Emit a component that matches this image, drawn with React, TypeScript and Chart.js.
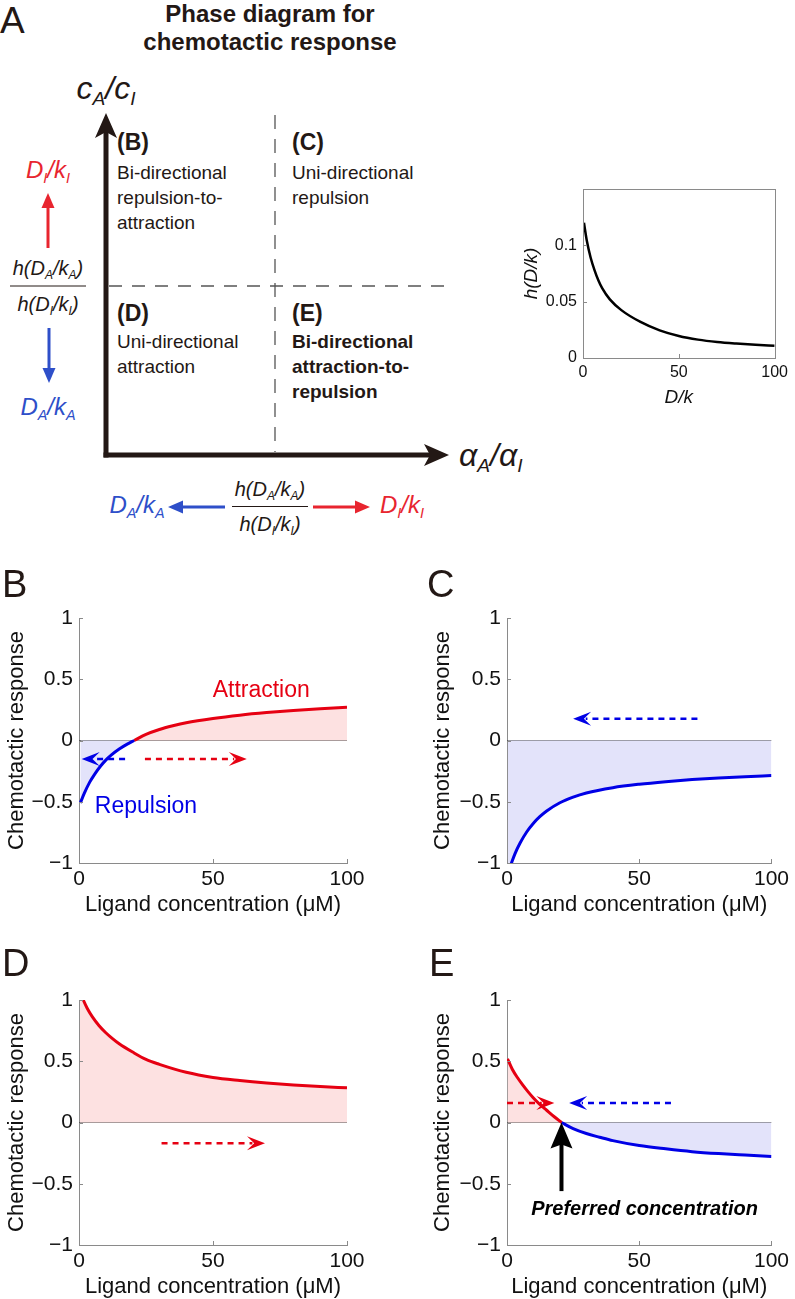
import React, { useEffect, useRef } from 'react';
import { Chart, registerables } from 'chart.js';

Chart.register(...registerables);

const FONT = "'Liberation Sans', Arial, Helvetica, sans-serif";
const INK = '#231815';
const RED = '#e60012';
const BLUE = '#0000e6';
const RED_FILL = '#fde1e1';
const BLUE_FILL = '#e3e3fa';
const AXIS = '#8a8a8a';
const ZERO = '#555555';
const A_RED = '#e8252f';
const A_BLUE = '#2e4fc9';

// ---------------- data ----------------
const concTicks = [0, 50, 100];
const respTicks = [-1, -0.5, 0, 0.5, 1];
const hTicks = [0, 0.05, 0.1];

const hConc = [0.5, 2, 4, 6, 8, 10, 14, 20, 30, 40, 50, 60, 70, 80, 90, 100];
const hVal = [0.12, 0.104, 0.089, 0.078, 0.069, 0.062, 0.052, 0.0425, 0.032, 0.0245, 0.0195, 0.0163, 0.0142, 0.0128, 0.0117, 0.0108];

const zeroConc = [0, 100];
const zeroResp = [0, 0];

const bRepConc = [0.5, 2, 4, 6, 8, 10, 12, 15, 18, 20.6];
const bRepResp = [-0.51, -0.43, -0.34, -0.27, -0.21, -0.16, -0.12, -0.07, -0.03, 0];
const bAttConc = [20.6, 25, 30, 35, 40, 50, 60, 70, 80, 90, 100];
const bAttResp = [0, 0.05, 0.09, 0.12, 0.145, 0.18, 0.207, 0.228, 0.245, 0.26, 0.272];

const cConc = [0.3, 1.7, 3, 5, 7.5, 10, 12.5, 15, 20, 25, 30, 40, 50, 60, 70, 80, 90, 100];
const cResp = [-1.085, -1.0, -0.925, -0.835, -0.745, -0.675, -0.62, -0.575, -0.508, -0.462, -0.428, -0.385, -0.357, -0.336, -0.319, -0.306, -0.295, -0.286];

const dConc = [0.3, 1.6, 3, 5, 7.5, 10, 12.5, 15, 20, 25, 30, 40, 50, 60, 70, 80, 90, 100];
const dResp = [1.07, 1.0, 0.935, 0.862, 0.79, 0.733, 0.685, 0.643, 0.575, 0.515, 0.475, 0.41, 0.368, 0.343, 0.323, 0.307, 0.294, 0.283];

const eAttConc = [0.2, 2, 4, 6, 8, 10, 12.3, 15, 18, 20.6];
const eAttResp = [0.52, 0.435, 0.365, 0.305, 0.25, 0.2, 0.15, 0.1, 0.045, 0];
const eRepConc = [20.6, 25, 30, 35, 40, 50, 60, 70, 80, 90, 100];
const eRepResp = [0, -0.05, -0.09, -0.12, -0.148, -0.188, -0.215, -0.238, -0.254, -0.266, -0.277];

// annotation anchors (data units)
const bArrows = [
  { from: 17.2, to: 1, at: -0.15, tone: 'blue' },
  { from: 24.6, to: 62.6, at: -0.15, tone: 'red' },
];
const cArrows = [{ from: 72, to: 25, at: 0.177, tone: 'blue' }];
const dArrows = [{ from: 30.8, to: 69.4, at: -0.17, tone: 'red' }];
const eArrows = [
  { from: 0, to: 17.9, at: 0.16, tone: 'red' },
  { from: 62, to: 23.5, at: 0.16, tone: 'blue' },
];
const eMarker = { conc: 20.6, from: -0.56, to: 0 };
const bNotes = [
  { text: 'Attraction', conc: 68, resp: 0.41, tone: 'red' },
  { text: 'Repulsion', conc: 25, resp: -0.54, tone: 'blue' },
];
const eNotes = [{ text: 'Preferred concentration', conc: 52, resp: -0.71, tone: 'black' }];

// ---------------- helpers ----------------
const TONES: Record<string, string> = { red: RED, blue: BLUE, black: '#000' };
const pts = (xs: number[], ys: number[]) => xs.map((x, i) => ({ x, y: ys[i] }));
const fmt = (v: number) => (v < 0 ? '\u2212' + String(-v) : String(v));

function curve(xs: number[], ys: number[], color: string, width: number, fillColor?: string, order = 0) {
  return {
    data: pts(xs, ys),
    borderColor: color,
    borderWidth: width,
    pointRadius: 0,
    fill: fillColor ? 'origin' : false,
    backgroundColor: fillColor || 'rgba(0,0,0,0)',
    cubicInterpolationMode: 'monotone',
    order,
  };
}

function dashedArrow(ctx: CanvasRenderingContext2D, x0: number, x1: number, y: number, color: string) {
  const dir = x1 > x0 ? 1 : -1;
  const L = 18, W = 14;
  ctx.save();
  ctx.strokeStyle = color;
  ctx.fillStyle = color;
  ctx.lineWidth = 2.5;
  ctx.setLineDash([6, 5]);
  ctx.beginPath();
  ctx.moveTo(x0, y);
  ctx.lineTo(x1 - dir * L * 0.7, y);
  ctx.stroke();
  ctx.setLineDash([]);
  ctx.beginPath();
  ctx.moveTo(x1, y);
  ctx.lineTo(x1 - dir * L, y - W / 2);
  ctx.lineTo(x1 - dir * L * 0.6, y);
  ctx.lineTo(x1 - dir * L, y + W / 2);
  ctx.closePath();
  ctx.fill();
  ctx.restore();
}

function solidUpArrow(ctx: CanvasRenderingContext2D, x: number, yTail: number, yTip: number) {
  const L = 26, W = 22;
  ctx.save();
  ctx.strokeStyle = '#000';
  ctx.fillStyle = '#000';
  ctx.lineWidth = 4;
  ctx.beginPath();
  ctx.moveTo(x, yTail);
  ctx.lineTo(x, yTip + L * 0.8);
  ctx.stroke();
  ctx.beginPath();
  ctx.moveTo(x, yTip);
  ctx.lineTo(x - W / 2, yTip + L);
  ctx.lineTo(x, yTip + L * 0.85);
  ctx.lineTo(x + W / 2, yTip + L);
  ctx.closePath();
  ctx.fill();
  ctx.restore();
}

function note(ctx: CanvasRenderingContext2D, text: string, x: number, y: number, font: string, color: string) {
  ctx.save();
  ctx.font = font;
  ctx.fillStyle = color;
  ctx.textAlign = 'center';
  ctx.textBaseline = 'middle';
  ctx.fillText(text, x, y);
  ctx.restore();
}

interface PanelSpec {
  left: number; top: number; width: number; height: number;
  yWidth: number; xHeight: number;
  pad: { left: number; right: number; top: number; bottom: number };
  yMin: number; yMax: number; yTicks: number[]; xTicks: number[];
  yTitle: string; xTitle: string; italic?: boolean;
  tickSize: number; titleSize: number;
  yTickPad: number; xTickPad: number; yTitlePad: number; xTitlePad: number;
  datasets: any[];
  framed?: boolean;
  draw?: (ctx: CanvasRenderingContext2D, xs: any, ys: any) => void;
}

function PanelChart({ spec }: { spec: PanelSpec }) {
  const ref = useRef<HTMLCanvasElement>(null);
  useEffect(() => {
    const s = spec;
    const decor = {
      id: 'decor',
      afterDatasetsDraw(chart: any) {
        const { ctx, chartArea: a } = chart;
        const xs = chart.scales.x;
        const ys = chart.scales.y;
        ctx.save();
        ctx.strokeStyle = AXIS;
        ctx.lineWidth = 1;
        if (s.framed) {
          ctx.strokeRect(Math.round(a.left) + 0.5, Math.round(a.top) + 0.5, Math.round(a.right - a.left), Math.round(a.bottom - a.top));
        }
        ctx.beginPath();
        s.xTicks.forEach((v) => {
          const px = Math.round(xs.getPixelForValue(v)) + 0.5;
          ctx.moveTo(px, a.bottom);
          ctx.lineTo(px, a.bottom - 4);
        });
        s.yTicks.forEach((v) => {
          const py = Math.round(ys.getPixelForValue(v)) + 0.5;
          ctx.moveTo(a.left, py);
          ctx.lineTo(a.left + 4, py);
        });
        ctx.stroke();
        ctx.restore();
        if (s.draw) s.draw(ctx, xs, ys);
      },
    };
    const tickFont = { family: FONT, size: s.tickSize, lineHeight: 1 };
    const titleFont = { family: FONT, size: s.titleSize, lineHeight: 1, style: s.italic ? 'italic' : 'normal' };
    const chart = new Chart(ref.current as HTMLCanvasElement, {
      type: 'line',
      data: { datasets: s.datasets },
      options: {
        responsive: false,
        animation: false,
        devicePixelRatio: 1,
        events: [],
        layout: { padding: s.pad },
        plugins: { legend: { display: false }, tooltip: { enabled: false } },
        scales: {
          x: {
            type: 'linear',
            min: 0,
            max: 100,
            grid: { display: true, drawOnChartArea: false, drawTicks: false },
            border: { display: !s.framed, color: AXIS, width: 1 },
            afterBuildTicks: (sc: any) => { sc.ticks = s.xTicks.map((v) => ({ value: v })); },
            afterFit: (sc: any) => { sc.height = s.xHeight; },
            ticks: {
              autoSkip: false, maxRotation: 0, minRotation: 0, padding: s.xTickPad, color: '#111',
              font: tickFont, callback: (v: any) => fmt(Number(v)),
            },
            title: { display: true, text: s.xTitle, color: '#111', font: titleFont, padding: { top: 0, bottom: s.xTitlePad } },
          },
          y: {
            type: 'linear',
            min: s.yMin,
            max: s.yMax,
            grid: { display: true, drawOnChartArea: false, drawTicks: false },
            border: { display: !s.framed, color: AXIS, width: 1 },
            afterBuildTicks: (sc: any) => { sc.ticks = s.yTicks.map((v) => ({ value: v })); },
            afterFit: (sc: any) => { sc.width = s.yWidth; },
            ticks: {
              autoSkip: false, padding: s.yTickPad, color: '#111',
              font: tickFont, callback: (v: any) => fmt(Number(v)),
            },
            title: { display: true, text: s.yTitle, color: '#111', font: titleFont, padding: { top: s.yTitlePad, bottom: 0 } },
          },
        },
      } as any,
      plugins: [decor],
    } as any);
    return () => chart.destroy();
  }, []);
  return (
    <canvas
      ref={ref}
      width={spec.width}
      height={spec.height}
      style={{ position: 'absolute', left: spec.left, top: spec.top, width: spec.width, height: spec.height }}
    />
  );
}

const Y_TITLE = 'Chemotactic response';
const X_TITLE = 'Ligand concentration (\u03bcM)';

function responseSpec(left: number, top: number, width: number, yWidth: number, padRight: number, datasets: any[], draw: PanelSpec['draw']): PanelSpec {
  return {
    left, top, width, height: 327, yWidth, xHeight: 54,
    pad: { left: 0, right: padRight, top: 28, bottom: 0 },
    yMin: -1, yMax: 1, yTicks: respTicks, xTicks: concTicks,
    yTitle: Y_TITLE, xTitle: X_TITLE,
    tickSize: 21, titleSize: 22, yTickPad: 6, xTickPad: 6, yTitlePad: 6, xTitlePad: 1,
    datasets, draw,
  };
}

const zeroLine = () => ({ ...curve(zeroConc, zeroResp, ZERO, 1, undefined, 1), cubicInterpolationMode: 'default' });

const arrowsDrawer = (arrows: typeof bArrows, notes: typeof bNotes, font: string) =>
  (ctx: CanvasRenderingContext2D, xs: any, ys: any) => {
    arrows.forEach((ar) => dashedArrow(ctx, xs.getPixelForValue(ar.from), xs.getPixelForValue(ar.to), ys.getPixelForValue(ar.at), TONES[ar.tone]));
    notes.forEach((n) => note(ctx, n.text, xs.getPixelForValue(n.conc), ys.getPixelForValue(n.resp), font, TONES[n.tone]));
  };

const specB = responseSpec(0, 590, 397, 79, 50, [
  curve(bRepConc, bRepResp, BLUE, 3, BLUE_FILL, 0),
  curve(bAttConc, bAttResp, RED, 3, RED_FILL, 0),
  zeroLine(),
], arrowsDrawer(bArrows, bNotes, `23px ${FONT}`));

const specC = responseSpec(426, 590, 369, 81, 20, [
  curve(cConc, cResp, BLUE, 3, BLUE_FILL, 0),
  zeroLine(),
], arrowsDrawer(cArrows, [], `23px ${FONT}`));

const specD = responseSpec(0, 972, 397, 79, 50, [
  curve(dConc, dResp, RED, 3, RED_FILL, 0),
  zeroLine(),
], arrowsDrawer(dArrows, [], `23px ${FONT}`));

const specE = responseSpec(426, 972, 369, 81, 20, [
  curve(eAttConc, eAttResp, RED, 3, RED_FILL, 0),
  curve(eRepConc, eRepResp, BLUE, 3, BLUE_FILL, 0),
  zeroLine(),
], (ctx, xs, ys) => {
  arrowsDrawer(eArrows, eNotes, `italic bold 20px ${FONT}`)(ctx, xs, ys);
  solidUpArrow(ctx, xs.getPixelForValue(eMarker.conc), ys.getPixelForValue(eMarker.from), ys.getPixelForValue(eMarker.to));
});

const specH: PanelSpec = {
  left: 510, top: 175, width: 285, height: 240, yWidth: 73, xHeight: 57,
  pad: { left: 0, right: 17, top: 10, bottom: 0 },
  yMin: 0, yMax: 0.15, yTicks: hTicks, xTicks: concTicks,
  yTitle: 'h(D/k)', xTitle: 'D/k', italic: true,
  tickSize: 16, titleSize: 19, yTickPad: 6, xTickPad: 7, yTitlePad: 12, xTitlePad: 7.5,
  framed: true,
  datasets: [curve(hConc, hVal, '#000', 2.5)],
};

// ---------------- phase diagram (panel A) ----------------
const Sub = ({ children }: { children: React.ReactNode }) => (
  <span style={{ fontSize: '0.6em', position: 'relative', top: '0.32em' }}>{children}</span>
);

const Txt = ({ x, y, size, color = INK, bold = false, italic = false, align = 'center', children }: any) => (
  <div
    style={{
      position: 'absolute', left: x, top: y,
      transform: align === 'center' ? 'translate(-50%, -50%)' : 'translate(0, -50%)',
      fontSize: size, fontWeight: bold ? 700 : 400, fontStyle: italic ? 'italic' : 'normal',
      color, lineHeight: 1, whiteSpace: 'nowrap', fontFamily: FONT,
    }}
  >
    {children}
  </div>
);

const Ratio = ({ s }: { s: string }) => (
  <>D<Sub>{s}</Sub>/k<Sub>{s}</Sub></>
);
const HRatio = ({ s }: { s: string }) => (
  <>h(D<Sub>{s}</Sub>/k<Sub>{s}</Sub>)</>
);

function PhaseDiagram() {
  return (
    <>
      <svg width={795} height={560} style={{ position: 'absolute', left: 0, top: 0 }}>
        {/* dashed separators */}
        <line x1={109} y1={286} x2={448} y2={286} stroke="#555" strokeWidth={1.3} strokeDasharray="13 10" />
        <line x1={275} y1={115} x2={275} y2={452} stroke="#555" strokeWidth={1.3} strokeDasharray="14 10" />
        {/* axes */}
        <line x1={106} y1={457.5} x2={106} y2={130} stroke={INK} strokeWidth={5} />
        <polygon points="106,113 95,138 106,132 117,138" fill={INK} />
        <line x1={103.5} y1={455} x2={432} y2={455} stroke={INK} strokeWidth={5} />
        <polygon points="449,455 424,444 430,455 424,466" fill={INK} />
        {/* colored arrows, left */}
        <line x1={48} y1={248} x2={48} y2={206} stroke={A_RED} strokeWidth={3} />
        <polygon points="48,193 41.5,208 54.5,208" fill={A_RED} />
        <line x1={49} y1={328} x2={49} y2={370} stroke={A_BLUE} strokeWidth={3} />
        <polygon points="49,383 42.5,368 55.5,368" fill={A_BLUE} />
        {/* colored arrows, bottom */}
        <line x1={225} y1={507} x2={181} y2={507} stroke={A_BLUE} strokeWidth={3} />
        <polygon points="168,507 183,500.5 183,513.5" fill={A_BLUE} />
        <line x1={313} y1={507} x2={357} y2={507} stroke={A_RED} strokeWidth={3} />
        <polygon points="370,507 355,500.5 355,513.5" fill={A_RED} />
        {/* fraction bars */}
        <line x1={10} y1={286} x2={86} y2={286} stroke={INK} strokeWidth={1} />
        <line x1={232} y1={506.5} x2={308} y2={506.5} stroke={INK} strokeWidth={1} />
      </svg>

      <Txt x={0} y={20} size={37} align="left">A</Txt>
      <Txt x={270} y={14} size={24} bold>Phase diagram for</Txt>
      <Txt x={270} y={42} size={24} bold>chemotactic response</Txt>

      <Txt x={106} y={88} size={32} italic>c<Sub>A</Sub>/c<Sub>I</Sub></Txt>

      <Txt x={117} y={142} size={23} bold align="left">(B)</Txt>
      <Txt x={117} y={171.5} size={19} align="left">Bi-directional</Txt>
      <Txt x={117} y={196.5} size={19} align="left">repulsion-to-</Txt>
      <Txt x={117} y={221.5} size={19} align="left">attraction</Txt>

      <Txt x={292} y={142} size={23} bold align="left">(C)</Txt>
      <Txt x={292} y={171.5} size={19} align="left">Uni-directional</Txt>
      <Txt x={292} y={196.5} size={19} align="left">repulsion</Txt>

      <Txt x={117} y={313} size={23} bold align="left">(D)</Txt>
      <Txt x={117} y={340.5} size={19} align="left">Uni-directional</Txt>
      <Txt x={117} y={365.5} size={19} align="left">attraction</Txt>

      <Txt x={292} y={313} size={23} bold align="left">(E)</Txt>
      <Txt x={292} y={340.5} size={19} bold align="left">Bi-directional</Txt>
      <Txt x={292} y={365.5} size={19} bold align="left">attraction-to-</Txt>
      <Txt x={292} y={390.5} size={19} bold align="left">repulsion</Txt>

      <Txt x={48} y={170} size={24} italic color={A_RED}><Ratio s="I" /></Txt>
      <Txt x={48} y={268} size={20} italic><HRatio s="A" /></Txt>
      <Txt x={48} y={304} size={20} italic><HRatio s="I" /></Txt>
      <Txt x={48} y={407} size={24} italic color={A_BLUE}><Ratio s="A" /></Txt>

      <Txt x={459} y={455} size={32} italic align="left">{'\u03b1'}<Sub>A</Sub>/{'\u03b1'}<Sub>I</Sub></Txt>

      <Txt x={270} y={489} size={20} italic><HRatio s="A" /></Txt>
      <Txt x={270} y={524} size={20} italic><HRatio s="I" /></Txt>
      <Txt x={137} y={505} size={24} italic color={A_BLUE}><Ratio s="A" /></Txt>
      <Txt x={380} y={505} size={24} italic color={A_RED} align="left"><Ratio s="I" /></Txt>
    </>
  );
}

export default function App() {
  return (
    <div
      style={{
        position: 'absolute', left: 0, top: 0, width: 795, height: 1299,
        background: '#fff', overflow: 'hidden', fontFamily: FONT,
      }}
    >
      <PhaseDiagram />
      <PanelChart spec={specH} />
      <PanelChart spec={specB} />
      <PanelChart spec={specC} />
      <PanelChart spec={specD} />
      <PanelChart spec={specE} />
      <Txt x={2} y={584} size={38} align="left">B</Txt>
      <Txt x={427} y={584} size={38} align="left">C</Txt>
      <Txt x={2} y={963} size={38} align="left">D</Txt>
      <Txt x={429} y={963} size={38} align="left">E</Txt>
    </div>
  );
}
